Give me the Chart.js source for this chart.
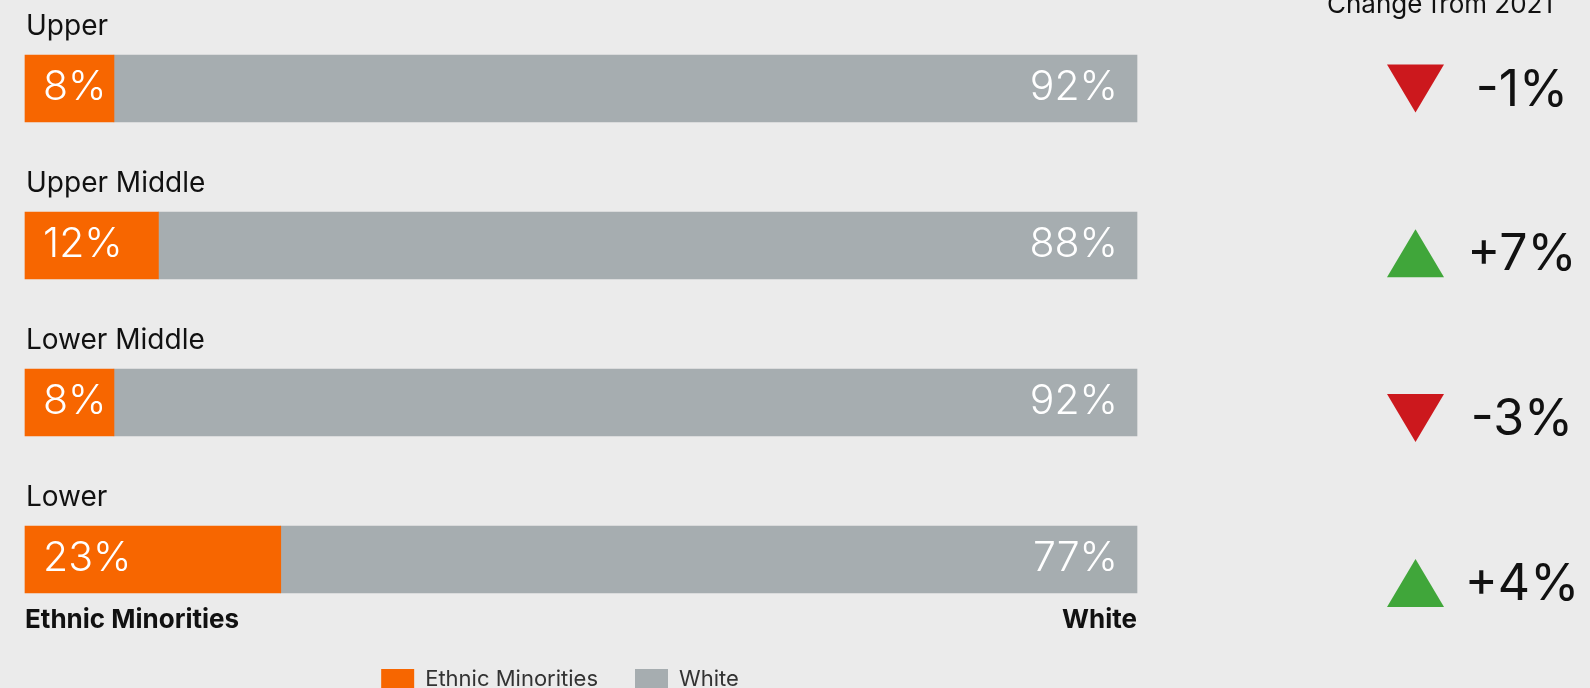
<!DOCTYPE html>
<html>
<head>
<meta charset="utf-8">
<script src="https://cdn.jsdelivr.net/npm/chart.js@4/dist/chart.umd.min.js"></script>
<style>
  html, body { margin: 0; padding: 0; background: #ebebeb; }
  #wrap { width: 1590px; height: 688px; position: relative; }
</style>
</head>
<body>
<div id="wrap"><canvas id="chart" width="1590" height="688"></canvas></div>
<script>
// Income groups and their ethnic composition (%)
const categories = ['Upper', 'Upper Middle', 'Lower Middle', 'Lower'];
const ethnicMinorities = [8, 12, 8, 23];
const white = [92, 88, 92, 77];
// Percentage-point change in the ethnic-minority share since 2021
const changeFrom2021 = [-1, 7, -3, 4];
const changeTitle = 'Change from 2021';
const axisEnds = ['Ethnic Minorities', 'White'];
const seriesNames = ['Ethnic Minorities', 'White'];

const ORANGE = '#f76600';
const GREY = '#a6adb0';
const RED = '#cc181d';
const GREEN = '#40a63a';
const INK = '#111111';
const FONT = 'Inter';

Chart.defaults.font.family = FONT;

const BAR_THICKNESS = 67;

function fmtChange(v) {
  return (v > 0 ? '+' : '-') + Math.abs(v) + '%';
}

// Labels above bars, values inside bars and the change column on the right
const rowAnnotations = {
  id: 'rowAnnotations',
  afterLayout(chart) {
    // centre the legend a little left of the plot's midline
    const lg = chart.legend;
    if (lg) { lg.left -= 21; lg.right -= 21; }
  },
  afterDatasetsDraw(chart) {
    const { ctx, scales: { x, y } } = chart;
    const x0 = x.getPixelForValue(0);
    const x1 = x.getPixelForValue(100);
    const half = BAR_THICKNESS / 2;
    const triX = 1415.5, triW = 57, triH = 48, changeX = 1522;
    ctx.save();

    ctx.fillStyle = INK;
    ctx.font = `400 26px ${FONT}`;
    ctx.textAlign = 'center';
    ctx.textBaseline = 'alphabetic';
    ctx.fillText(changeTitle, 1440, 13);

    categories.forEach((cat, i) => {
      const yc = y.getPixelForValue(i);

      ctx.fillStyle = INK;
      ctx.font = `400 28px ${FONT}`;
      ctx.textAlign = 'left';
      ctx.textBaseline = 'alphabetic';
      ctx.fillText(cat, x0 + 1, yc - half - 20);

      ctx.fillStyle = '#ffffff';
      ctx.font = `300 41px ${FONT}`;
      ctx.textBaseline = 'middle';
      ctx.textAlign = 'left';
      ctx.fillText(ethnicMinorities[i] + '%', x0 + 18, yc - 1);
      ctx.textAlign = 'right';
      ctx.fillText(white[i] + '%', x1 - 19, yc - 1);

      // change column rows sit on a slightly wider pitch than the bars
      const cy = yc + i * 7.8;
      const v = changeFrom2021[i];
      ctx.beginPath();
      if (v < 0) {
        ctx.moveTo(triX - triW / 2, cy - triH / 2);
        ctx.lineTo(triX + triW / 2, cy - triH / 2);
        ctx.lineTo(triX, cy + triH / 2);
      } else {
        ctx.moveTo(triX, cy - triH / 2);
        ctx.lineTo(triX + triW / 2, cy + triH / 2);
        ctx.lineTo(triX - triW / 2, cy + triH / 2);
      }
      ctx.closePath();
      ctx.fillStyle = v < 0 ? RED : GREEN;
      ctx.fill();

      ctx.fillStyle = INK;
      ctx.font = `400 50px ${FONT}`;
      ctx.textAlign = 'center';
      ctx.textBaseline = 'alphabetic';
      ctx.fillText(fmtChange(v), changeX, cy + 17);
    });
    ctx.restore();
  }
};

new Chart(document.getElementById('chart'), {
  type: 'bar',
  data: {
    labels: categories,
    datasets: [
      { label: seriesNames[0], data: ethnicMinorities, backgroundColor: ORANGE, borderColor: ORANGE, borderWidth: 0, barThickness: BAR_THICKNESS, clip: false },
      { label: seriesNames[1], data: white, backgroundColor: GREY, borderColor: GREY, borderWidth: 0, barThickness: BAR_THICKNESS, clip: false }
    ]
  },
  options: {
    indexAxis: 'y',
    responsive: false,
    animation: false,
    events: [],
    layout: { padding: { top: 88.5, right: 453, bottom: -12, left: 25 } },
    scales: {
      x: {
        stacked: true,
        min: 0,
        max: 100,
        position: 'bottom',
        grid: { display: false, drawTicks: false },
        border: { display: false },
        afterBuildTicks: (s) => { s.ticks = [{ value: 0 }, { value: 100 }]; },
        ticks: {
          align: 'inner',
          padding: 20,
          color: INK,
          font: { family: FONT, size: 26, weight: '700', lineHeight: 3.123 },
          callback: (v) => (v === 0 ? axisEnds[0] : axisEnds[1])
        },
        afterFit: (s) => { s.height = 71.5; }
      },
      y: {
        stacked: true,
        offset: false,
        display: false
      }
    },
    plugins: {
      tooltip: { enabled: false },
      legend: {
        position: 'bottom',
        align: 'center',
        labels: {
          boxWidth: 33,
          boxHeight: 20,
          padding: 37,
          color: '#333333',
          font: { family: FONT, size: 22 }
        }
      }
    }
  },
  plugins: [rowAnnotations]
});
</script>
</body>
</html>
